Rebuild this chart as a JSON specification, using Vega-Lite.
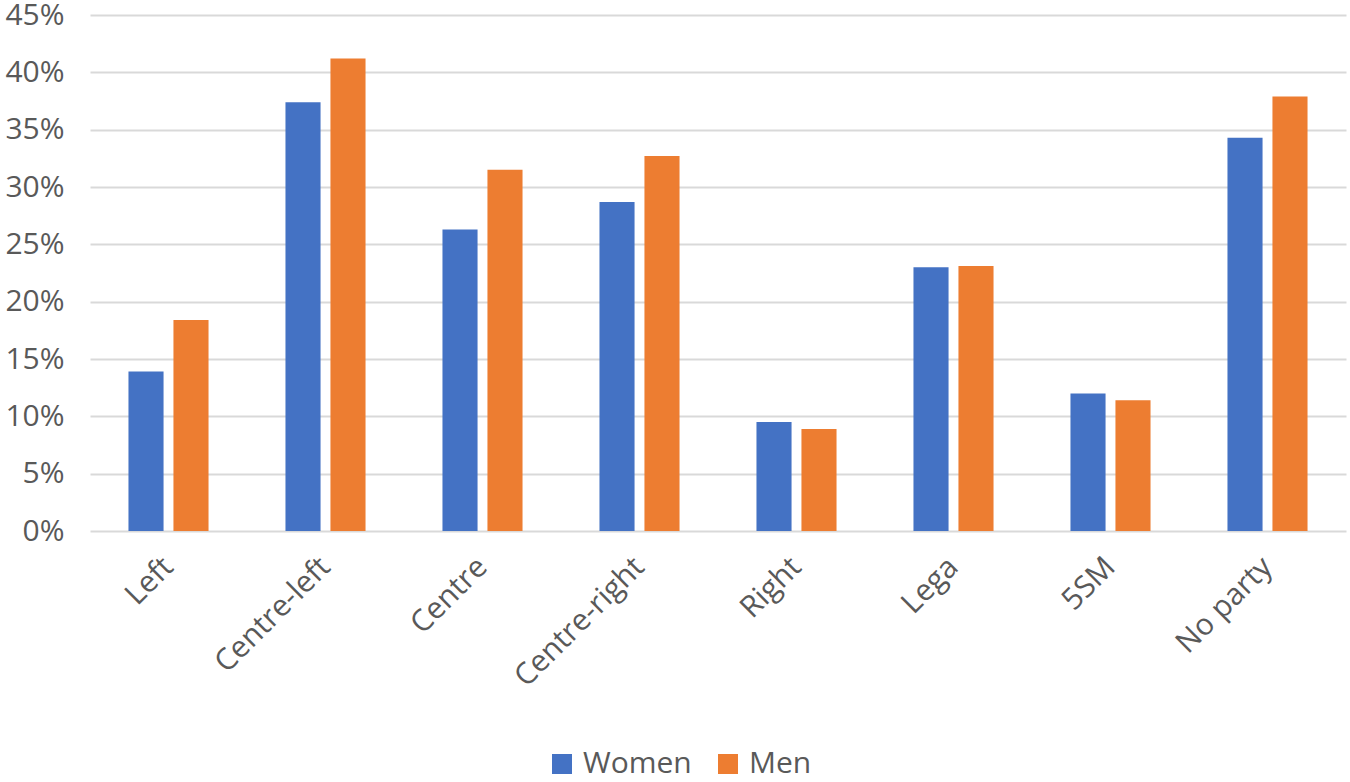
{
  "$schema": "https://vega.github.io/schema/vega-lite/v6.json",
  "width": 1256,
  "height": 516,
  "autosize": {"type": "none"},
  "padding": {"left": 90, "top": 15, "right": 4, "bottom": 251},
  "background": "white",
  "data": {
    "values": [
      {"party": "Left", "gender": "Women", "value": 0.139},
      {"party": "Left", "gender": "Men", "value": 0.184},
      {"party": "Centre-left", "gender": "Women", "value": 0.374},
      {"party": "Centre-left", "gender": "Men", "value": 0.412},
      {"party": "Centre", "gender": "Women", "value": 0.263},
      {"party": "Centre", "gender": "Men", "value": 0.315},
      {"party": "Centre-right", "gender": "Women", "value": 0.287},
      {"party": "Centre-right", "gender": "Men", "value": 0.327},
      {"party": "Right", "gender": "Women", "value": 0.095},
      {"party": "Right", "gender": "Men", "value": 0.089},
      {"party": "Lega", "gender": "Women", "value": 0.230},
      {"party": "Lega", "gender": "Men", "value": 0.231},
      {"party": "5SM", "gender": "Women", "value": 0.120},
      {"party": "5SM", "gender": "Men", "value": 0.114},
      {"party": "No party", "gender": "Women", "value": 0.343},
      {"party": "No party", "gender": "Men", "value": 0.379}
    ]
  },
  "mark": {"type": "bar"},
  "encoding": {
    "x": {
      "field": "party",
      "type": "nominal",
      "sort": null,
      "scale": {"paddingInner": 0.49, "paddingOuter": 0.245},
      "axis": {
        "title": null,
        "labelAngle": -45,
        "labelAlign": "right",
        "labelBaseline": "middle",
        "labelFont": "Open Sans",
        "labelFontSize": 30,
        "labelColor": "#595959",
        "labelPadding": 31,
        "ticks": false,
        "domain": false,
        "grid": false
      }
    },
    "xOffset": {
      "field": "gender",
      "type": "nominal",
      "sort": ["Women", "Men"],
      "scale": {"paddingInner": 0.22, "paddingOuter": 0}
    },
    "y": {
      "field": "value",
      "type": "quantitative",
      "scale": {"domain": [0, 0.45], "nice": false},
      "axis": {
        "title": null,
        "format": ".0%",
        "values": [0, 0.05, 0.1, 0.15, 0.2, 0.25, 0.3, 0.35, 0.4, 0.45],
        "labelFont": "Open Sans",
        "labelFontSize": 30,
        "labelColor": "#595959",
        "labelPadding": 26,
        "ticks": false,
        "domain": false,
        "grid": true,
        "gridColor": "#D9D9D9",
        "gridWidth": 2
      }
    },
    "color": {
      "field": "gender",
      "type": "nominal",
      "sort": ["Women", "Men"],
      "scale": {"domain": ["Women", "Men"], "range": ["#4472C4", "#ED7D31"]},
      "legend": {
        "title": null,
        "orient": "none",
        "direction": "horizontal",
        "legendX": 457,
        "legendY": 734,
        "symbolType": "square",
        "symbolSize": 400,
        "symbolStrokeWidth": 0,
        "labelFont": "Open Sans",
        "labelFontSize": 30,
        "labelColor": "#595959",
        "labelOffset": 6,
        "columnPadding": 21
      }
    }
  },
  "config": {"view": {"stroke": null}}
}
